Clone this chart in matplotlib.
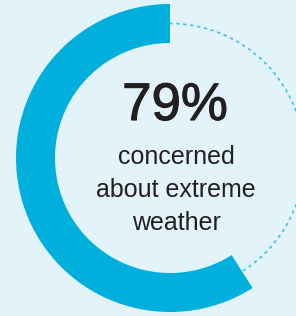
import matplotlib.pyplot as plt
import matplotlib.patheffects as pe
from matplotlib.patches import Circle

plt.rcParams['font.family'] = ['Liberation Sans', 'DejaVu Sans']

# value shown in the label, and the share of the ring as it is drawn
label_value = 79
drawn_share = [59, 41]
caption = "concerned\nabout extreme\nweather"

bg = '#e2f4fa'
arc_col = '#00afdb'
dot_col = '#3cc3e6'
txt_col = '#231f20'

fig = plt.figure(figsize=(2.96, 3.16), dpi=100, facecolor=bg)
ax = fig.add_axes([0, 0, 1, 1])
ax.set_facecolor(bg)

cx, cy, r_out, ring_w = 170, 158, 154, 39

# dotted remainder track
track = Circle((cx, cy), r_out - ring_w / 2, fill=False, edgecolor=dot_col,
               linewidth=1.2, linestyle=(0, (2, 2.2)), zorder=1)
ax.add_patch(track)

ax.pie(drawn_share, colors=[arc_col, 'none'], startangle=90, counterclock=True,
       radius=r_out, center=(cx, cy), frame=True,
       wedgeprops=dict(width=ring_w, linewidth=0, zorder=2))

ax.text(175, 210, f"{label_value}%", ha='center', va='center', fontsize=38,
        color=txt_col,
        path_effects=[pe.withStroke(linewidth=0.8, foreground=txt_col)])
ax.text(176, 126, caption, ha='center', va='center', fontsize=18,
        color=txt_col, linespacing=1.45)

ax.set_xlim(0, 296)
ax.set_ylim(0, 316)
ax.set_aspect('equal')
ax.axis('off')

fig.savefig('out.png', dpi=100, facecolor=bg)
